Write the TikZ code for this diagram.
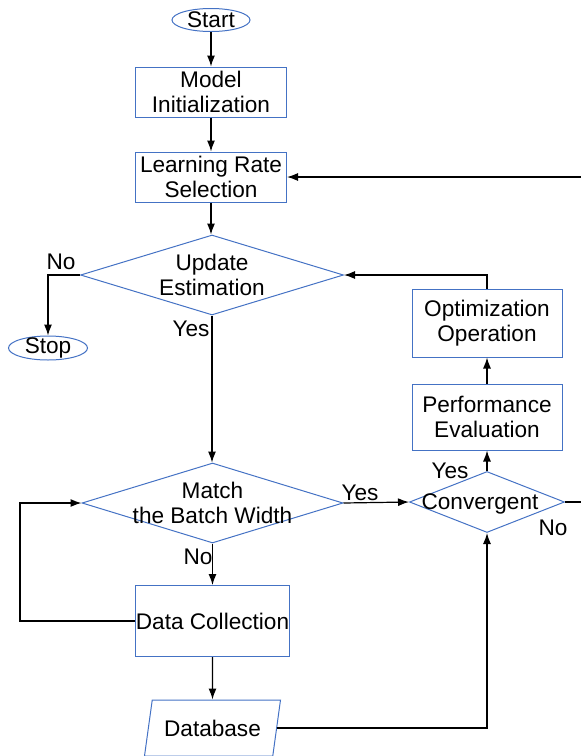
\documentclass[tikz,border=0pt]{standalone}
\usepackage{fontspec}
\setmainfont{Liberation Sans}
\usepackage{tikz}
\usetikzlibrary{shapes.geometric, arrows.meta}
\definecolor{flowblue}{HTML}{4472C4}
\tikzset{
>={Latex[length=11pt,width=8pt]},
  terminal/.style={
    ellipse,
    draw=flowblue, line width=1pt,
    minimum width=78pt,
    minimum height=23pt,
    inner sep=0pt},
  process/.style={
    rectangle,
    draw=flowblue, line width=1pt,
    minimum width=151pt,
    minimum height=50pt,
    inner sep=0pt,
    align=center},
  decision/.style={
    diamond,
    draw=flowblue, line width=1pt,
    inner sep=0pt},
  storage/.style={
    trapezium,
    trapezium left angle=65, trapezium right angle=115,
    trapezium stretches body=true,
    draw=flowblue, line width=1pt,
    minimum width=136pt,
    minimum height=56pt,
    inner sep=0pt},
  line/.style={draw, line width=1.2pt, ->},
  plain/.style={draw, line width=1.2pt},
  answer/.style={inner sep=0pt},
}

\begin{document}
\begin{tikzpicture}[x=1pt, y=-1pt, font=\fontsize{22.6}{25}\selectfont]
     \useasboundingbox (0,0) rectangle (581,756);
     % left column
     \node[terminal, label=center:Start] (start) at (211,20) {};
     \node[process] (modelinit) at (211,92) {Model\\Initialization};
     \node[process] (lrsel) at (211,177) {Learning Rate\\Selection};
     \node[decision, minimum width=263pt, minimum height=80pt,
           label={[align=center]center:Update\\Estimation}] (update) at (212,275) {};
     \node[terminal, minimum width=79pt, minimum height=24pt, label=center:Stop] (stop) at (48,348) {};
     \node[decision, minimum width=261pt, minimum height=80pt,
           label={[align=center]center:Match\\the Batch Width}] (match) at (212.5,503) {};
     \node[process, minimum width=152pt, minimum height=71pt] (datacoll) at (212.5,621) {Data Collection};
     \node[storage] (database) at (212.5,728) {Database};
     % right column
     \node[decision, minimum width=155pt, minimum height=61pt,
           label={[xshift=-7pt, yshift=-2pt]center:Convergent}] (conv) at (487,502) {};
     \node[process, minimum width=150pt, minimum height=66pt] (perfeval) at (487,417) {Performance\\Evaluation};
     \node[process, minimum width=150pt, minimum height=68pt] (optimop) at (487,323) {Optimization\\Operation};
     \coordinate (rightin) at (581,177);
     \coordinate (rightout) at (581,502);
     \coordinate (loopleft) at (20,621);
     % answers
     \node[answer] (updno) at (61,262) {No};
     \node[answer] (updyes) at (191,329) {Yes};
     \node[answer] (matchyes) at (360,493) {Yes};
     \node[answer] (matchno) at (198,557) {No};
     \node[answer] (convyes) at (450,471) {Yes};
     \node[answer] (convno) at (553,528) {No};
     % connectors
     \draw[line] (start) -- (modelinit);
     \draw[line] (modelinit) -- (lrsel);
     \draw[line] (lrsel) -- (lrsel |- update.north);
     \draw[line] (update.west) -| (stop.north);
     \draw[line] (update.south) -- (update.south |- match.north);
     \draw[line] (match.south) -- (datacoll.north);
     \draw[line] (datacoll.south) -- (database.north);
     \draw[line] (datacoll.west) -- (loopleft) |- (match.west);
     \draw[line] (match.east) -- (conv.west);
     \draw[line] (database.east) -| (conv.south);
     \draw[line] (conv.north) -- (perfeval.south);
     \draw[line] (perfeval.north) -- (optimop.south);
     \draw[line] (optimop.north) |- (update.east);
     \draw[plain] (conv.east) -- (rightout);
     \draw[line] (rightin) -- (lrsel.east);
\end{tikzpicture}
\end{document}
